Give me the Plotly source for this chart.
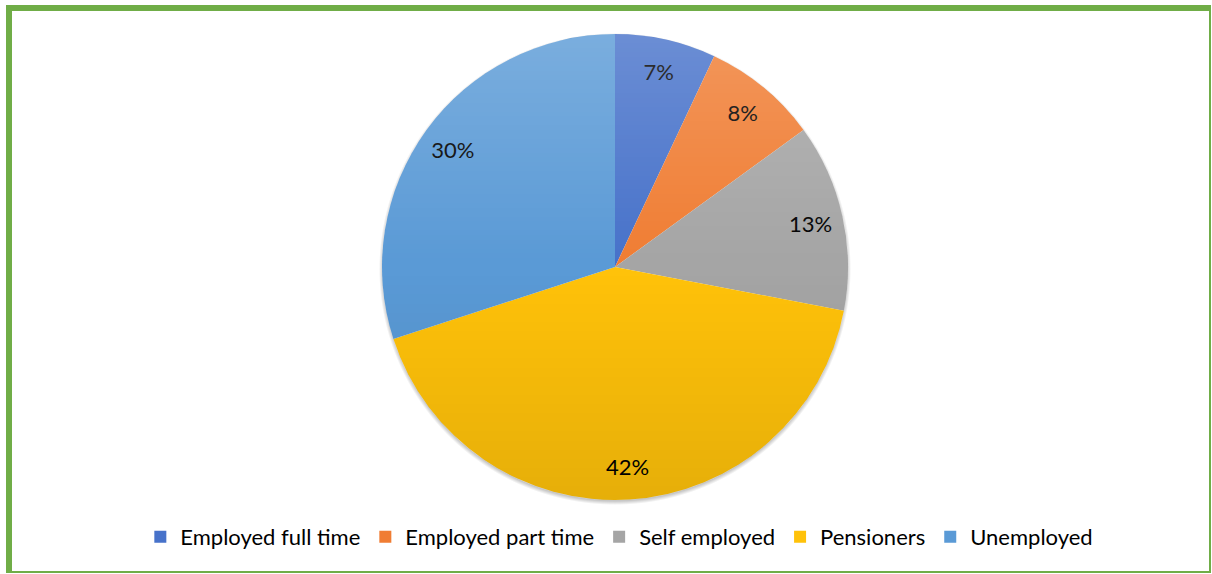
import base64
import struct
import zlib

import numpy as np
import plotly.graph_objects as go

# Employment status breakdown
categories = ["Employed full time", "Employed part time", "Self employed", "Pensioners", "Unemployed"]
shares = [7, 8, 13, 42, 30]
colors = ["#4772CA", "#F07D33", "#A5A5A5", "#FFC20A", "#5A9AD6"]

W, H = 1212, 574
PIE_LEFT, PIE_TOP, PIE_SIZE = 382, 34, 466
pie_domain = dict(x=[PIE_LEFT / W, (PIE_LEFT + PIE_SIZE) / W],
                  y=[1 - (PIE_TOP + PIE_SIZE) / H, 1 - PIE_TOP / H])


def png_data_uri(rgba):
    """Encode an (h, w, 4) uint8 array as a PNG data URI."""
    h, w, _ = rgba.shape
    raw = b"".join(b"\x00" + rgba[r].tobytes() for r in range(h))

    def chunk(tag, data):
        return (struct.pack(">I", len(data)) + tag + data
                + struct.pack(">I", zlib.crc32(tag + data) & 0xFFFFFFFF))

    png = (b"\x89PNG\r\n\x1a\n"
           + chunk(b"IHDR", struct.pack(">IIBBBBB", w, h, 8, 6, 0, 0, 0))
           + chunk(b"IDAT", zlib.compress(raw, 9))
           + chunk(b"IEND", b""))
    return "data:image/png;base64," + base64.b64encode(png).decode()


def shading_overlay(size, pad):
    """Light-to-dark vertical sheen clipped to the disc, plus a soft drop shadow."""
    n = size + 2 * pad
    r = size / 2.0
    yy, xx = np.mgrid[0:n, 0:n].astype(float) + 0.5
    cx = cy = n / 2.0
    d = np.hypot(xx - cx, yy - cy)
    cover = np.clip(r - d + 0.5, 0, 1)

    t = np.clip((yy - pad) / size, 0, 1)
    top_a, bot_a = 0.20, 0.10
    white_a = np.where(t < 0.5, top_a * (1 - 2 * t), 0.0)
    black_a = np.where(t >= 0.5, bot_a * (2 * t - 1), 0.0)
    g_alpha = white_a + black_a
    g_val = np.where(t < 0.5, 255.0, 0.0)

    ds = np.hypot(xx - cx, yy - (cy + 2.0))
    s_alpha = 0.22 * np.clip(1 - (ds - r + 1.0) / 4.0, 0, 1)

    alpha = cover * g_alpha + (1 - cover) * s_alpha
    premult = cover * g_alpha * g_val
    val = np.where(alpha > 0, premult / np.maximum(alpha, 1e-6), 0)

    img = np.zeros((n, n, 4), dtype=np.uint8)
    img[..., 0] = img[..., 1] = img[..., 2] = np.clip(val, 0, 255).astype(np.uint8)
    img[..., 3] = np.clip(alpha * 255, 0, 255).astype(np.uint8)
    return img


fig = go.Figure()

# Filled slices
fig.add_trace(go.Pie(
    labels=categories,
    values=shares,
    sort=False,
    direction="clockwise",
    rotation=0,
    marker=dict(colors=colors, line=dict(width=0)),
    textinfo="none",
    hoverinfo="label+percent",
    domain=pie_domain,
))

# Transparent ring carrying the percentage labels near the rim
fig.add_trace(go.Pie(
    labels=categories,
    values=shares,
    sort=False,
    direction="clockwise",
    rotation=0,
    hole=0.72,
    marker=dict(colors=["rgba(0,0,0,0)"] * len(shares), line=dict(width=0)),
    texttemplate="%{percent:.0%}",
    textposition="inside",
    insidetextorientation="horizontal",
    textfont=dict(family="Lato", size=22, color="#000000"),
    showlegend=False,
    hoverinfo="skip",
    domain=pie_domain,
))

# Sheen and shadow laid over the disc
PAD = 8
fig.add_layout_image(
    source=png_data_uri(shading_overlay(PIE_SIZE, PAD)),
    xref="paper", yref="paper",
    x=(PIE_LEFT - PAD) / W, y=1 - (PIE_TOP - PAD) / H,
    sizex=(PIE_SIZE + 2 * PAD) / W, sizey=(PIE_SIZE + 2 * PAD) / H,
    xanchor="left", yanchor="top",
    sizing="stretch", layer="above",
)

# Chart frame
green = "#70AD47"
frame = [
    (6, 5, 12, 573),      # left
    (6, 5, 1211, 11),     # top
    (1209, 5, 1211, 573), # right
    (6, 571, 1211, 573),  # bottom
]
shapes = [
    dict(type="rect", xref="paper", yref="paper",
         x0=x0 / W, x1=x1 / W, y0=1 - y1 / H, y1=1 - y0 / H,
         fillcolor=green, line=dict(width=0), layer="above")
    for x0, y0, x1, y1 in frame
]

fig.update_layout(
    width=W, height=H,
    margin=dict(l=0, r=0, t=0, b=0),
    paper_bgcolor="white",
    plot_bgcolor="white",
    shapes=shapes,
    legend=dict(
        orientation="h",
        x=0.511, xanchor="center",
        y=1 - 537 / H, yanchor="middle",
        font=dict(family="Lato", size=22, color="#000000"),
        itemwidth=30,
        traceorder="normal",
    ),
)

fig.write_html("out.html")
